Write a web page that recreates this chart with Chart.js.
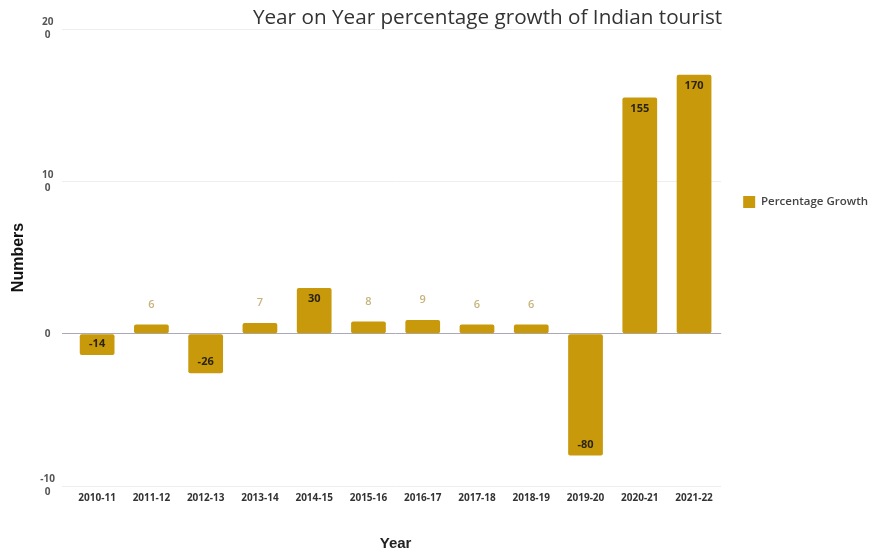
<!DOCTYPE html>
<html>
<head>
<meta charset="utf-8">
<script src="https://cdn.jsdelivr.net/npm/chart.js@4.4.1/dist/chart.umd.min.js"></script>
<style>
  html, body { margin: 0; padding: 0; background: #ffffff; }
  #wrap { width: 878px; height: 553px; }
</style>
</head>
<body>
<div id="wrap"><canvas id="growthChart" width="878" height="553"></canvas></div>
<script>
// Chart text
const chartTitle = 'Year on Year percentage growth of Indian tourist';
const seriesName = 'Percentage Growth';
const xTitle = 'Year';
const yTitle = 'Numbers';

// Financial years and year-on-year growth (%)
const years = ['2010-11', '2011-12', '2012-13', '2013-14', '2014-15', '2015-16',
               '2016-17', '2017-18', '2018-19', '2019-20', '2020-21', '2021-22'];
const growth = [-14, 6, -26, 7, 30, 8, 9, 6, 6, -80, 155, 170];

// Value axis ticks
const yTicks = [-100, 0, 100, 200];

const GOLD = '#c8990a';

// Title drawn right-aligned to the plot area
const titlePlugin = {
  id: 'rightTitle',
  afterDraw(chart) {
    const { ctx, chartArea } = chart;
    ctx.save();
    ctx.font = '20.7px "Open Sans", sans-serif';
    ctx.fillStyle = '#333333';
    ctx.textAlign = 'right';
    ctx.textBaseline = 'middle';
    ctx.fillText(chartTitle, chartArea.right + 1, 18);
    ctx.restore();
  }
};

// Value labels: inside the bar end for tall bars, above the bar for short ones
const valueLabels = {
  id: 'valueLabels',
  afterDatasetsDraw(chart) {
    const { ctx } = chart;
    const meta = chart.getDatasetMeta(0);
    ctx.save();
    ctx.textAlign = 'center';
    ctx.textBaseline = 'middle';
    meta.data.forEach((bar, i) => {
      const v = growth[i];
      if (Math.abs(v) >= 10) {
        ctx.font = 'bold 11px "Open Sans", sans-serif';
        ctx.fillStyle = '#2b2410';
        const y = v >= 0 ? bar.y + 11 : bar.y - 11;
        ctx.fillText(String(v), bar.x, y);
      } else {
        ctx.font = '600 11px "Open Sans", sans-serif';
        ctx.fillStyle = '#c6b47c';
        ctx.fillText(String(v), bar.x, bar.y - 20);
      }
    });
    ctx.restore();
  }
};

new Chart(document.getElementById('growthChart'), {
  type: 'bar',
  data: {
    labels: years,
    datasets: [{
      label: seriesName,
      data: growth,
      backgroundColor: GOLD,
      borderWidth: 0,
      borderRadius: 2,
      borderSkipped: false,
      barPercentage: 0.64,
      categoryPercentage: 1.0
    }]
  },
  options: {
    responsive: false,
    animation: false,
    devicePixelRatio: 1,
    layout: { padding: { top: 29, right: 0, bottom: 0, left: 0 } },
    plugins: {
      title: { display: false },
      tooltip: { enabled: false },
      legend: {
        position: 'right',
        align: 'start',
        title: { display: true, text: ' ', font: { size: 5 }, padding: { top: 139, bottom: 0 } },
        labels: {
          boxWidth: 12,
          boxHeight: 12,
          padding: 22,
          color: '#444444',
          font: { family: '"Open Sans", sans-serif', size: 11.5, weight: '600' }
        }
      }
    },
    scales: {
      x: {
        grid: { display: false, drawTicks: false },
        border: { display: false },
        ticks: {
          padding: 6,
          color: '#333333',
          font: { family: '"Open Sans", sans-serif', size: 10, weight: 'bold' },
          maxRotation: 0,
          autoSkip: false
        },
        title: {
          display: true,
          text: xTitle,
          color: '#222222',
          font: { family: '"Liberation Sans", Arial, sans-serif', size: 15, weight: 'bold' },
          padding: { top: 0, bottom: 0 }
        },
        afterFit(scale) { scale.height = 67; }
      },
      y: {
        min: -100,
        max: 200,
        afterBuildTicks(scale) { scale.ticks = yTicks.map(v => ({ value: v })); },
        grid: {
          color: ctx => (ctx.tick && ctx.tick.value === 0) ? '#a9a9b9' : '#eeeeee',
          lineWidth: 1,
          drawTicks: true,
          tickLength: 8
        },
        border: { display: false },
        ticks: {
          padding: 7,
          crossAlign: 'center',
          color: '#555555',
          font: { family: '"Open Sans", sans-serif', size: 10, weight: 'bold', lineHeight: 1.3 },
          callback(value) {
            const s = String(value);
            return s.length > 2 ? [s.slice(0, -1), s.slice(-1)] : s;
          }
        },
        title: {
          display: true,
          text: yTitle,
          color: '#111111',
          font: { family: '"Liberation Sans", Arial, sans-serif', size: 16, weight: 'bold' },
          padding: { top: 9, bottom: 0 }
        },
        afterFit(scale) { scale.width = 70; }
      }
    }
  },
  plugins: [titlePlugin, valueLabels]
});
</script>
</body>
</html>
